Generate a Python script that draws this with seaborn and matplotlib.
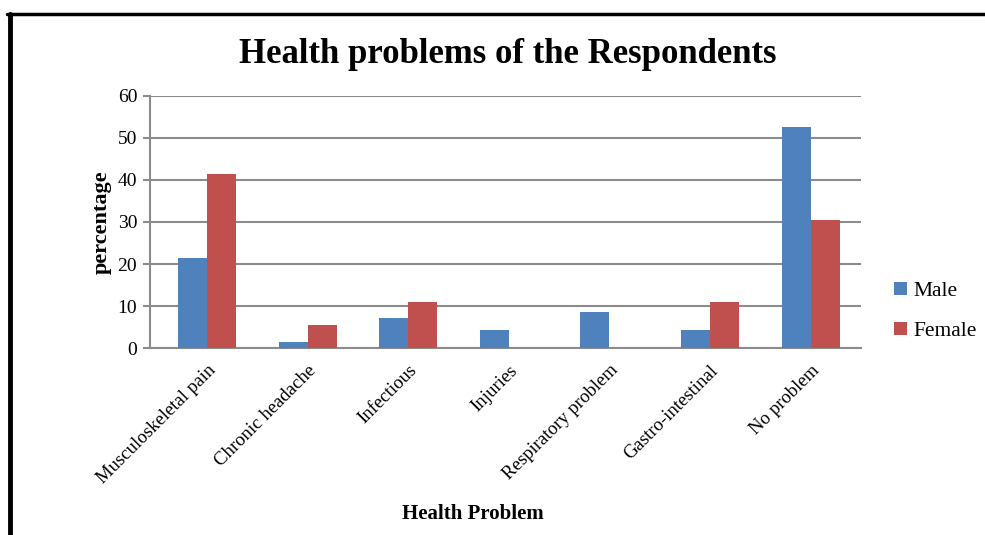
import matplotlib
matplotlib.use("Agg")
import matplotlib.pyplot as plt
import seaborn as sns
import pandas as pd
from matplotlib.lines import Line2D

# chart data (percent of respondents)
categories = ["Musculoskeletal pain", "Chronic headache", "Infectious", "Injuries",
              "Respiratory problem", "Gastro-intestinal", "No problem"]
male = [21.4, 1.4, 7.1, 4.3, 8.5, 4.3, 52.7]
female = [41.5, 5.5, 11.0, 0.0, 0.0, 11.0, 30.4]
yticks = [0, 10, 20, 30, 40, 50, 60]

df = pd.DataFrame({
    "category": categories * 2,
    "sex": ["Male"] * len(categories) + ["Female"] * len(categories),
    "value": male + female,
})

sns.set_theme(style="white")
plt.rcParams["font.family"] = ["Liberation Serif", "DejaVu Serif"]
plt.rcParams["text.color"] = "black"
plt.rcParams["axes.labelcolor"] = "black"

fig = plt.figure(figsize=(9.85, 5.35), dpi=100)
ax = fig.add_axes([0.152, 0.3495, 0.722, 0.4711])

sns.barplot(data=df, x="category", y="value", hue="sex", order=categories,
            hue_order=["Male", "Female"], palette=["#4f81bd", "#c0504d"],
            width=0.575, saturation=1, linewidth=0, ax=ax, zorder=3)

ax.set_ylim(0, 60)
ax.set_yticks(yticks)
ax.set_xlim(-0.57, len(categories) - 0.5)
ax.yaxis.grid(True, color="#8c8c8c", linewidth=1.5, zorder=0)
ax.set_axisbelow(True)
for s in ["top", "right"]:
    ax.spines[s].set_visible(False)
for s in ["left", "bottom"]:
    ax.spines[s].set_color("#8c8c8c")
    ax.spines[s].set_linewidth(1.5)
ax.tick_params(axis="y", left=True, length=5, width=1.5, color="#8c8c8c",
               labelsize=14, labelcolor="black", pad=4)
ax.tick_params(axis="x", bottom=False, labelsize=13.5, labelcolor="black", pad=4)
plt.setp(ax.get_xticklabels(), rotation=45, ha="right", rotation_mode="anchor")

ax.set_ylabel("percentage", fontsize=16, fontweight="bold", labelpad=4)
ax.set_xlabel("Health Problem", fontsize=15, fontweight="bold")
ax.xaxis.set_label_coords(0.455, -0.62)

fig.text(0.515, 0.899, "Health problems of the Respondents", ha="center", va="center",
         fontsize=25, fontweight="bold")

leg = ax.legend(loc="center left", bbox_to_anchor=(1.02, 0.145), frameon=False,
                fontsize=15.5, handlelength=0.6, handleheight=0.6, handletextpad=0.3,
                labelspacing=0.95)

# black frame around the chart (top and left edges visible)
fig.add_artist(Line2D([0.0073, 1.0], [0.9738, 0.9738], color="black", linewidth=2.5,
                      transform=fig.transFigure))
fig.add_artist(Line2D([0.0097, 0.0097], [0.0, 0.9738], color="black", linewidth=3.5,
                      transform=fig.transFigure))

fig.savefig("out.png", dpi=100)
